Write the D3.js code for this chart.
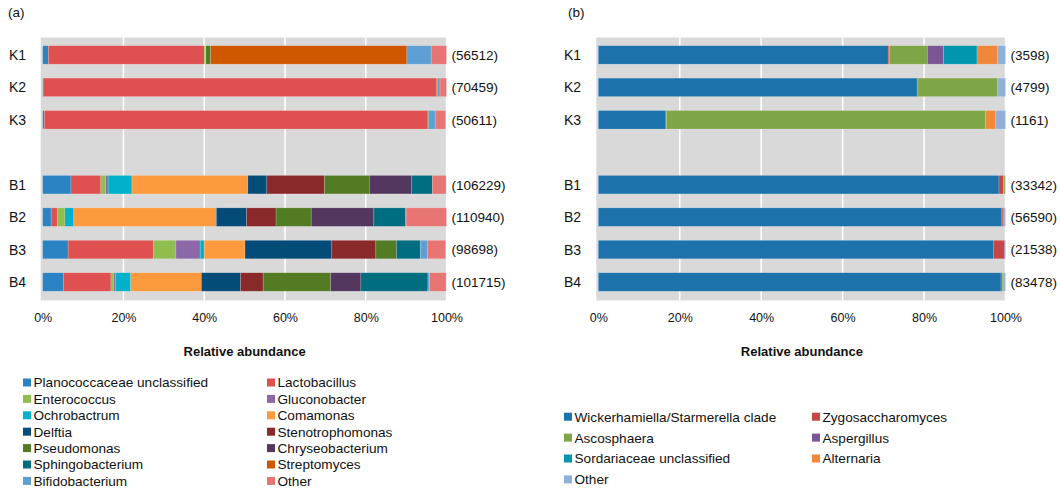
<!DOCTYPE html>
<script src="https://d3js.org/d3.v7.min.js"></script>
<body style="margin: 0; background: #fff;">
<svg id="chart" width="1060" height="490"></svg>
</body>

<style>
  text { font-family: "Liberation Sans", Arial, sans-serif; fill: #111; }
  .grid line { stroke: #fff; stroke-width: 1.5px; }
  .bars rect { stroke: #fff; stroke-opacity: 0.3; stroke-width: 0.6px; }
</style>

<script>

// sample order, with an empty slot between the K and B groups
var samples = ["K1", "K2", "K3", "B1", "B2", "B3", "B4"];
var slots = ["K1", "K2", "K3", "gap", "B1", "B2", "B3", "B4"];
var ticks = [0, 20, 40, 60, 80, 100];

// (a) bacteria
var generaA = ["Planococcaceae unclassified", "Lactobacillus", "Enterococcus", "Gluconobacter",
  "Ochrobactrum", "Comamonas", "Delftia", "Stenotrophomonas", "Pseudomonas",
  "Chryseobacterium", "Sphingobacterium", "Streptomyces", "Bifidobacterium", "Other"];
var colorsA = ["#2a84c4", "#df5050", "#8fbd4e", "#8d68a8", "#00b1c9", "#fd9a3d", "#034b78",
  "#8a292a", "#537b23", "#53375f", "#006e81", "#d15600", "#5c9fd3", "#e87474"];
var valuesA = [
  [1.4, 38.6, 0.3, 0, 0, 0.1, 0, 0, 1.2, 0, 0, 48.6, 6.0, 3.8],
  [0.1, 97.4, 0, 0, 0, 0, 0, 0, 0, 0, 0, 0.2, 0.7, 1.6],
  [0.4, 95.0, 0, 0, 0, 0, 0, 0, 0.2, 0, 0, 0, 1.6, 2.6],
  [7.0, 7.4, 1.2, 0.6, 5.9, 28.7, 4.7, 14.3, 11.1, 10.4, 5.2, 0, 0, 3.4],
  [2.1, 1.5, 1.9, 0, 2.2, 35.3, 7.5, 7.3, 8.7, 15.5, 7.9, 0, 0.1, 10.0],
  [6.3, 21.1, 5.6, 6.0, 1.0, 10.1, 21.5, 10.9, 5.1, 0, 5.9, 0, 1.8, 4.5],
  [5.1, 11.8, 0.7, 0.5, 3.7, 17.5, 9.7, 5.6, 16.7, 7.5, 16.6, 0, 0.4, 4.1]
];
var readsA = [56512, 70459, 50611, 106229, 110940, 98698, 101715];

// (b) fungi
var generaB = ["Wickerhamiella/Starmerella clade", "Zygosaccharomyces", "Ascosphaera",
  "Aspergillus", "Sordariaceae unclassified", "Alternaria", "Other"];
var colorsB = ["#1c72aa", "#c84545", "#7fa646", "#7b5694", "#0097ae", "#f2873a", "#90b0d6"];
var valuesB = [
  [71.2, 0.3, 9.3, 4.0, 8.2, 5.0, 2.0],
  [78.3, 0.2, 19.6, 0, 0, 0, 1.9],
  [16.6, 0.1, 78.4, 0, 0, 2.5, 2.4],
  [98.4, 1.1, 0.4, 0, 0, 0, 0.1],
  [99.1, 0.3, 0, 0.2, 0, 0, 0.4],
  [97.0, 2.7, 0, 0.2, 0, 0, 0.1],
  [98.9, 0.3, 0.4, 0, 0, 0, 0.4]
];
var readsB = [3598, 4799, 1161, 33342, 56590, 21538, 83478];

var svg = d3.select("#chart");

function panel(opt) {
  var g = svg.append("g");
  var x = d3.scaleLinear().domain([0, 100]).range([opt.x0, opt.x1]);
  var y = d3.scaleBand().domain(slots).range([38.7, 298.2]).paddingInner(0.43).paddingOuter(0.215);

  g.append("rect")
      .attr("x", x(0) - 2).attr("y", 37.5)
      .attr("width", x(100) - x(0) + 2).attr("height", 263)
      .attr("fill", "#d9d9d9");

  g.append("g").attr("class", "grid")
    .selectAll("line")
    .data(ticks.slice(1))
    .join("line")
      .attr("x1", d => x(d)).attr("x2", d => x(d))
      .attr("y1", 37.5).attr("y2", 300.5);

  var rows = opt.values.map(function(v, i) {
    var r = { sample: samples[i] };
    opt.genera.forEach(function(name, j) { r[name] = v[j]; });
    return r;
  });
  var stacked = d3.stack().keys(opt.genera)(rows);

  g.append("g").attr("class", "bars")
    .selectAll("g")
    .data(stacked)
    .join("g")
      .attr("fill", (d, i) => opt.colors[i])
    .selectAll("rect")
    .data(d => d.filter(s => s[1] - s[0] > 0))
    .join("rect")
      .attr("x", d => x(d[0]))
      .attr("y", d => y(d.data.sample))
      .attr("width", d => x(d[1]) - x(d[0]))
      .attr("height", y.bandwidth());

  // sample labels
  g.append("g")
    .selectAll("text")
    .data(samples)
    .join("text")
      .attr("x", opt.labelX)
      .attr("y", d => y(d) + y.bandwidth() / 2)
      .attr("dy", "0.36em")
      .style("font-size", "14px")
      .text(d => d);

  // read counts
  g.append("g")
    .selectAll("text")
    .data(opt.reads)
    .join("text")
      .attr("x", x(100) + 5)
      .attr("y", (d, i) => y(samples[i]) + y.bandwidth() / 2)
      .attr("dy", "0.36em")
      .style("font-size", "13.5px")
      .text(d => "(" + d + ")");

  // x axis
  var axis = g.append("g")
      .attr("transform", "translate(0,322)")
      .call(d3.axisBottom(x).tickValues(ticks).tickFormat(d => d + "%").tickSize(0).tickPadding(0));
  axis.select(".domain").remove();
  axis.selectAll("text")
      .attr("dy", 0)
      .style("font-size", "12.5px")
      .style("font-family", "'Liberation Sans', Arial, sans-serif")
      .attr("fill", "#111");

  g.append("text")
      .attr("x", (x(0) + x(100)) / 2)
      .attr("y", 356)
      .attr("text-anchor", "middle")
      .style("font-size", "13px")
      .style("font-weight", "bold")
      .text("Relative abundance");

  g.append("text")
      .attr("x", opt.tagX).attr("y", 17)
      .style("font-size", "13.5px")
      .text(opt.tag);

  // legend, two columns filled row by row
  var leg = g.append("g")
    .selectAll("g")
    .data(opt.genera)
    .join("g")
      .attr("transform", (d, i) => "translate(" + (opt.legX + (i % 2) * opt.legColW) + "," + (opt.legY + Math.floor(i / 2) * opt.legRowH) + ")");
  leg.append("rect")
      .attr("x", 0).attr("y", -4)
      .attr("width", 8).attr("height", 8)
      .attr("fill", (d, i) => opt.colors[i]);
  leg.append("text")
      .attr("x", 10.5).attr("y", 0)
      .attr("dy", "0.36em")
      .style("font-size", "13.6px")
      .text(d => d);
}

panel({
  tag: "(a)", tagX: 8, labelX: 9, x0: 42.7, x1: 446.5,
  genera: generaA, colors: colorsA, values: valuesA, reads: readsA,
  legX: 23, legY: 382.5, legColW: 244, legRowH: 16.4
});

panel({
  tag: "(b)", tagX: 568, labelX: 564, x0: 598.3, x1: 1005.5,
  genera: generaB, colors: colorsB, values: valuesB, reads: readsB,
  legX: 564, legY: 416.7, legColW: 248, legRowH: 20.9
});

</script>
